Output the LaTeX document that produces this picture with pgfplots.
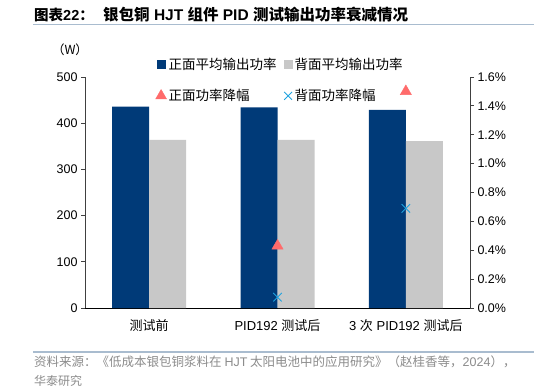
\documentclass[border=0pt]{standalone}
\usepackage{pgfplots}
\pgfplotsset{compat=1.18}
\usepackage{fontspec}
\setmainfont{Liberation Sans}
\newfontfamily\cjk{Noto Sans CJK SC}

\definecolor{navy}{HTML}{003A78}
\definecolor{lgray}{HTML}{C8C8C8}
\definecolor{tri}{HTML}{FF6B6B}
\definecolor{crs}{HTML}{1FA3E0}
\definecolor{rulec}{HTML}{A9BCCF}
\definecolor{srcc}{HTML}{8C8C8C}

\pgfplotsset{
  sqlegend/.style={legend image code/.code={\path[##1] (0pt,-4.5pt) rectangle (9pt,4.5pt);}},
  mklegend/.style={legend image code/.code={\draw[##1] plot[only marks] coordinates {(4.5pt,0pt)};}},
}

\begin{document}
\begin{tikzpicture}
\useasboundingbox[fill=white] (0pt,0pt) rectangle (534pt,389pt);
% title
\node[anchor=west, inner sep=0pt, font=\fontsize{14.5}{16}\selectfont\bfseries] at (34pt,374pt) {{\cjk 图表}22{\cjk ：}};
\node[anchor=west, inner sep=0pt, font=\fontsize{15.5}{17}\selectfont\bfseries] at (103pt,374pt) {{\cjk 银包铜} HJT {\cjk 组件} PID {\cjk 测试输出功率衰减情况}};
\draw[rulec, line width=1.3pt] (33pt,364.5pt) -- (534pt,364.5pt);
% unit
\node[inner sep=0pt, font=\fontsize{12.5}{14}\selectfont] at (70pt,339pt) {\cjk （W）};

\begin{axis}[at={(85pt,81pt)}, anchor=south west, scale only axis,
  width=385pt, height=231pt,
  xmin=-0.5, xmax=2.5, ymin=0, ymax=500,
  ytick={0,100,200,300,400,500},
  axis x line*=bottom, axis y line*=left,
  x axis line style={black, line width=0.8pt},
  y axis line style={black!75, line width=0.8pt},
  ybar=0pt, bar width=37pt,
  xtick={0,1,2},
  xticklabels={{\cjk 测试前},{PID192 {\cjk 测试后}},{3 {\cjk 次} PID192 {\cjk 测试后}}},
  major x tick style={draw=none},
  extra x ticks={0.5,1.5}, extra x tick labels={},
  extra x tick style={major tick length=5pt, tick style={black, line width=0.8pt}},
  tick align=outside, major tick length=4pt,
  ytick style={black!75, line width=0.8pt},
  xticklabel style={font=\fontsize{13}{15}\selectfont, yshift=-4pt},
  yticklabel style={font=\fontsize{12.5}{14}\selectfont},
  /pgf/number format/assume math mode=true,
  legend columns=2,
  legend cell align=left,
  legend style={at={(0.183,1.09)}, anchor=north west, draw=none, fill=none,
    font=\fontsize{13.5}{15}\selectfont, row sep=14pt, inner sep=0pt,
    /tikz/every even column/.append style={column sep=5pt}},
  ]
\addplot[fill=navy, draw=none, sqlegend]
  coordinates {(0,436) (1,434) (2,429)};
\addlegendentry{\cjk 正面平均输出功率}
\addplot[fill=lgray, draw=none, sqlegend]
  coordinates {(0,364) (1,364) (2,361)};
\addlegendentry{\cjk 背面平均输出功率}
\addlegendimage{only marks, mark=triangle*, mark size=6.3pt, color=tri, mklegend}
\addlegendentry{\cjk 正面功率降幅}
\addlegendimage{only marks, mark=x, mark size=5.5pt, color=crs, line width=0.9pt, mklegend}
\addlegendentry{\cjk 背面功率降幅}
\end{axis}

\begin{axis}[at={(85pt,81pt)}, anchor=south west, scale only axis,
  width=385pt, height=231pt,
  xmin=-0.5, xmax=2.5, ymin=0, ymax=1.6,
  axis y line*=right, axis x line=none,
  y axis line style={black!75, line width=0.8pt},
  ytick={0,0.2,0.4,0.6,0.8,1.0,1.2,1.4,1.6},
  yticklabel={\pgfmathprintnumber[fixed,fixed zerofill,precision=1]{\tick}\%},
  tick align=outside, major tick length=4pt,
  ytick style={black!75, line width=0.8pt},
  yticklabel style={font=\fontsize{12.5}{14}\selectfont},
  /pgf/number format/assume math mode=true,
  ]
\addplot[only marks, mark=triangle*, mark size=6.5pt, color=tri]
  coordinates {(1,0.43) (2,1.50)};
\addplot[only marks, mark=x, mark size=6pt, color=crs, line width=0.9pt]
  coordinates {(1,0.075) (2,0.69)};
\end{axis}

% source
\draw[rulec, line width=1.3pt] (33pt,37pt) -- (534pt,37pt);
\node[anchor=west, inner sep=0pt, text=srcc, font=\fontsize{12.5}{14}\selectfont] at (34pt,27pt)
  {\cjk 资料来源：《低成本银包铜浆料在 {\rmfamily HJT} 太阳电池中的应用研究》（赵桂香等，{\rmfamily 2024}），};
\node[anchor=west, inner sep=0pt, text=srcc, font=\fontsize{12}{14}\selectfont] at (34pt,8pt)
  {\cjk 华泰研究};
\end{tikzpicture}
\end{document}
